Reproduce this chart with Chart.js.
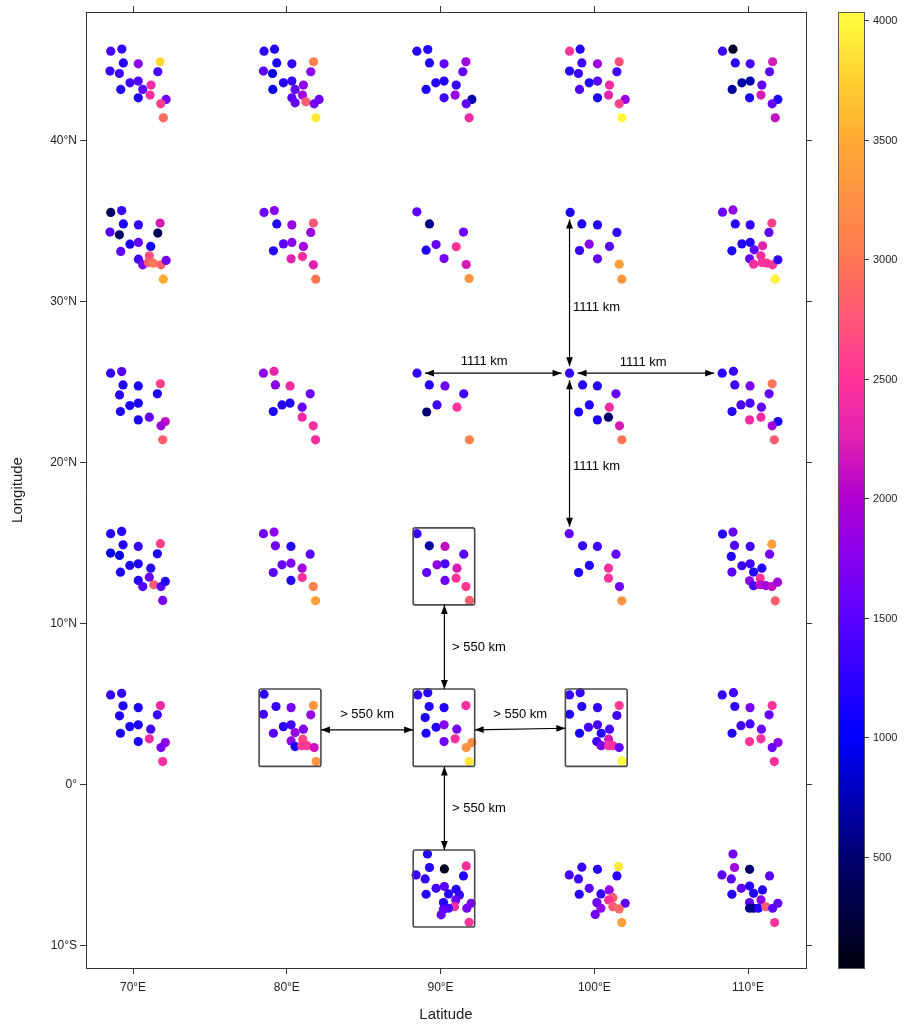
<!DOCTYPE html>
<html lang="en">
<head>
<meta charset="UTF-8">
<title>Station clusters</title>
<script src="https://cdn.jsdelivr.net/npm/chart.js"></script>
<style>
  body { margin: 0; background: #fff; }
  #wrap { width: 907px; height: 1028px; }
</style>
</head>
<body>
<div id="wrap"><canvas id="map" width="907" height="1028"></canvas></div>
<script>
// axis setup
const xRange = [66.94, 113.77];
const yRange = [-11.37, 48.0];
const xTickVals = [70, 80, 90, 100, 110];
const xTickLabels = ['70°E', '80°E', '90°E', '100°E', '110°E'];
const yTickVals = [-10, 0, 10, 20, 30, 40];
const yTickLabels = ['10°S', '0°', '10°N', '20°N', '30°N', '40°N'];

// colour key
const cbRange = [35, 4035];
const cbTicks = [500, 1000, 1500, 2000, 2500, 3000, 3500, 4000];
const cmapVals = [35, 500, 1000, 1500, 1750, 2000, 2250, 2500, 2750, 3000, 3250, 3500, 3750, 4035];
const cmapCols = ['#00000f', '#000070', '#0000ff', '#5a00ff', '#8800f0', '#b000d0', '#e020b0',
                  '#ff3399', '#ff5577', '#ff7755', '#ff9044', '#ffaa33', '#ffd030', '#ffff40'];

// station clusters: [lon, lat, value]
const c70_45 = [[68.55,45.57,1400],[69.27,45.70,1300],[69.37,44.84,1200],[70.34,44.78,1800],[71.76,44.91,3800],[68.50,44.33,1350],[69.11,44.18,1350],[71.61,44.29,1400],[69.80,43.60,1350],[70.34,43.71,1450],[71.17,43.46,2400],[70.63,43.19,1500],[69.20,43.19,1200],[71.11,42.84,2450],[72.15,42.57,1650],[70.34,42.67,1150],[71.80,42.30,2600],[71.97,41.43,2900]];
const c80_45 = [[78.52,45.57,1250],[79.20,45.69,1200],[79.35,44.84,1150],[80.33,44.78,1300],[81.74,44.91,3100],[78.48,44.33,1500],[79.07,44.18,900],[81.56,44.29,1750],[79.78,43.60,1200],[80.33,43.71,1300],[81.08,43.46,1800],[80.54,43.19,1550],[79.09,43.19,900],[81.02,42.84,1900],[80.33,42.67,1500],[80.54,42.36,1550],[81.24,42.42,2800],[81.78,42.30,1650],[82.10,42.57,1600],[81.89,41.43,3900]];
const c90_45 = [[88.46,45.57,1200],[89.17,45.67,1200],[89.28,44.84,1200],[90.23,44.78,1550],[91.65,44.91,1900],[91.45,44.29,1550],[89.69,43.60,1200],[90.23,43.71,1200],[91.02,43.46,1300],[89.06,43.19,1150],[90.23,42.67,1350],[90.95,42.84,1850],[92.04,42.57,700],[91.67,42.30,1500],[91.86,41.43,2400]];
const c100_45 = [[98.39,45.57,2500],[99.08,45.69,1200],[99.19,44.84,1350],[100.21,44.78,1900],[101.62,44.91,2700],[98.39,44.33,1200],[98.97,44.18,1300],[101.47,44.29,1350],[99.67,43.60,1200],[100.21,43.71,1500],[100.99,43.46,2400],[99.04,43.19,1450],[100.93,42.84,2300],[100.21,42.67,1150],[102.01,42.57,1850],[101.62,42.30,2600],[101.79,41.43,4000]];
const c110_45 = [[108.34,45.57,1350],[109.02,45.69,150],[109.17,44.84,1200],[110.14,44.78,1400],[111.60,44.91,2200],[111.40,44.29,1500],[109.60,43.60,700],[110.14,43.71,700],[110.90,43.46,1550],[108.97,43.19,650],[110.84,42.84,2200],[110.10,42.67,1150],[111.94,42.57,1150],[111.57,42.30,1550],[111.77,41.43,2100]];

const c70_35 = [[68.55,35.55,400],[69.26,35.67,1300],[69.37,34.84,1150],[70.35,34.78,1300],[71.76,34.89,2200],[68.50,34.33,1450],[69.11,34.16,450],[71.61,34.27,400],[69.80,33.58,1150],[70.35,33.69,1550],[71.15,33.44,1100],[69.20,33.13,1500],[71.06,32.86,2700],[70.35,32.65,1350],[70.63,32.30,1650],[71.00,32.44,2800],[71.32,32.40,3000],[71.82,32.30,2800],[72.15,32.57,1600],[71.97,31.41,3500]];
const c80_35 = [[78.52,35.55,1600],[79.19,35.67,1750],[79.35,34.84,1200],[80.33,34.78,1850],[81.73,34.89,2750],[81.56,34.31,1850],[79.78,33.60,1500],[80.33,33.69,1750],[81.08,33.44,1900],[79.13,33.17,1200],[80.28,32.67,2250],[81.02,32.81,2450],[81.73,32.30,2250],[81.88,31.41,3000]];
const c90_35 = [[88.46,35.59,1500],[89.28,34.84,600],[91.49,34.33,1600],[89.71,33.56,1550],[89.06,33.21,1200],[91.02,33.42,2500],[90.23,32.69,1650],[91.67,32.32,2200],[91.86,31.45,3300]];
const c100_35 = [[98.43,35.55,1150],[99.19,34.84,1150],[100.21,34.78,1200],[101.47,34.31,1250],[99.04,33.19,1300],[99.67,33.58,1750],[100.99,33.44,1500],[100.21,32.67,1550],[101.62,32.34,3400],[101.79,31.41,3300]];
const c110_35 = [[108.34,35.57,1600],[109.02,35.71,1800],[109.17,34.84,1200],[110.14,34.78,1300],[111.55,34.89,2600],[111.36,34.31,1500],[109.60,33.60,1200],[110.14,33.69,1200],[110.95,33.48,2300],[108.95,33.17,1150],[110.40,33.23,1550],[110.84,32.86,2450],[110.10,32.67,1550],[110.36,32.34,2450],[110.90,32.44,2500],[111.23,32.40,2500],[111.60,32.30,2450],[111.94,32.61,1250],[111.77,31.41,3950]];

const c70_25 = [[68.54,25.57,1300],[69.26,25.67,1450],[69.35,24.84,1200],[70.34,24.78,1150],[71.78,24.91,2600],[69.12,24.22,1200],[71.58,24.29,1150],[69.79,23.56,1150],[70.34,23.71,1150],[69.18,23.19,1150],[71.06,22.84,1550],[70.34,22.67,1150],[72.10,22.57,2100],[71.82,22.30,1900],[71.93,21.43,2800]];
const c80_25 = [[78.48,25.57,1800],[79.17,25.69,2300],[79.26,24.84,1750],[80.21,24.78,2400],[81.52,24.29,1600],[79.12,23.19,1150],[79.69,23.60,1200],[80.21,23.71,1200],[81.00,23.46,1550],[81.00,22.84,2400],[81.72,22.30,2450],[81.87,21.43,2400]];
const c90_25 = [[88.47,25.57,1250],[89.27,24.84,1200],[90.29,24.78,1600],[91.51,24.29,1350],[89.77,23.60,1350],[89.10,23.16,500],[91.07,23.46,2500],[91.88,21.43,3100]];
const c100_25 = [[98.39,25.57,1300],[99.24,24.84,1200],[100.20,24.78,1200],[101.41,24.29,1550],[99.68,23.60,1200],[98.98,23.16,1150],[100.98,23.46,2400],[100.20,22.67,1150],[100.92,22.84,450],[101.64,22.30,2200],[101.79,21.43,3000]];
const c110_25 = [[108.32,25.57,1250],[109.05,25.69,1300],[109.14,24.84,1350],[110.13,24.78,1650],[111.57,24.91,3000],[111.37,24.29,1550],[109.54,23.60,1400],[110.13,23.71,1400],[110.87,23.46,1550],[108.96,23.19,1200],[110.10,22.67,2400],[110.84,22.84,2400],[111.95,22.57,1150],[111.57,22.30,1900],[111.71,21.43,2800]];

const c70_15 = [[68.54,15.60,1200],[69.26,15.74,1200],[69.35,14.91,1200],[70.34,14.81,1300],[71.78,14.98,2600],[68.54,14.40,900],[69.12,14.25,900],[71.58,14.35,1150],[69.79,13.63,1150],[70.34,13.73,1150],[71.15,13.46,1200],[69.18,13.21,1150],[70.34,12.70,1200],[71.06,12.90,1600],[70.63,12.32,1450],[71.35,12.43,2800],[71.82,12.32,1500],[72.10,12.64,1200],[71.93,11.46,1650]];
const c80_15 = [[78.48,15.60,1600],[79.17,15.70,1800],[79.26,14.85,1600],[80.27,14.81,1200],[81.52,14.33,1500],[79.69,13.67,1550],[80.27,13.77,1700],[81.00,13.46,1900],[79.12,13.19,1500],[80.27,12.70,1200],[81.00,12.88,2450],[81.72,12.32,3100],[81.87,11.43,3400]];
const c90_15 = [[88.47,15.60,1300],[89.27,14.85,700],[90.29,14.81,2100],[91.51,14.33,1500],[89.77,13.67,1800],[90.29,13.73,1400],[89.10,13.19,1500],[91.07,13.46,2200],[90.29,12.70,1600],[91.01,12.84,2500],[91.65,12.32,2550],[91.88,11.46,2800]];
const c100_15 = [[98.37,15.60,1550],[99.24,14.85,1300],[100.20,14.81,1350],[101.41,14.33,1550],[99.68,13.63,1200],[98.98,13.19,1150],[100.92,13.46,2450],[100.92,12.84,2450],[101.64,12.32,1600],[101.79,11.43,3300]];
const c110_15 = [[108.34,15.58,1200],[109.02,15.70,1600],[109.12,14.87,1450],[110.14,14.81,1350],[111.55,14.95,3400],[111.40,14.33,1650],[108.91,14.19,1200],[109.60,13.61,1350],[110.14,13.73,1350],[110.90,13.46,1200],[108.95,13.22,1500],[110.36,13.22,1200],[110.79,12.84,2500],[110.10,12.68,1800],[110.36,12.37,1400],[110.79,12.43,2100],[111.16,12.38,1900],[111.55,12.32,2100],[111.92,12.59,1900],[111.77,11.43,2800]];

const c70_5 = [[68.54,5.59,1300],[69.26,5.69,1300],[69.35,4.91,1150],[70.34,4.80,1150],[71.78,4.93,2400],[69.12,4.29,1150],[71.58,4.35,1350],[69.79,3.62,1150],[70.34,3.73,1150],[69.18,3.21,1150],[71.15,3.46,1350],[71.06,2.86,2400],[70.34,2.69,1150],[72.10,2.63,1800],[71.82,2.32,1650],[71.93,1.45,2450]];
const c80_5 = [[78.52,5.63,1250],[79.30,4.87,1300],[80.28,4.80,1650],[81.73,4.93,3300],[78.48,4.39,1350],[81.56,4.35,1850],[79.78,3.62,1200],[80.28,3.73,1350],[81.08,3.46,1700],[79.13,3.21,1500],[80.54,3.25,1850],[80.28,2.73,1800],[81.04,2.84,2650],[80.54,2.38,1150],[80.97,2.44,2550],[81.30,2.44,2550],[81.78,2.32,2150],[81.91,1.45,3300]];
const c90_5 = [[88.52,5.59,1250],[89.17,5.73,1200],[89.26,4.87,1200],[90.23,4.80,1200],[91.65,4.93,2450],[89.00,4.18,1150],[89.71,3.58,1200],[90.23,3.73,1750],[91.06,3.46,1650],[89.06,3.21,1150],[90.23,2.69,1600],[90.95,2.86,2450],[92.04,2.63,3200],[91.67,2.32,3300],[91.86,1.45,3900]];
const c100_5 = [[98.39,5.59,1300],[99.08,5.73,1300],[99.19,4.87,1200],[100.21,4.80,1250],[101.62,4.93,2550],[98.39,4.39,1200],[101.47,4.31,1350],[99.62,3.58,1350],[100.21,3.73,1400],[100.99,3.46,1400],[99.04,3.21,1150],[100.45,3.21,1200],[100.16,2.69,1350],[100.93,2.84,2200],[100.45,2.44,1650],[100.93,2.44,2500],[101.21,2.44,2450],[101.62,2.32,1550],[101.79,1.49,4000]];
const c110_5 = [[108.32,5.59,1300],[109.05,5.73,1350],[109.14,4.87,1300],[110.13,4.80,1650],[111.57,4.93,2500],[111.37,4.35,1550],[109.54,3.68,1400],[110.13,3.79,1400],[110.87,3.46,1600],[108.96,3.21,1200],[110.10,2.69,2500],[110.84,2.86,2450],[111.95,2.63,1800],[111.57,2.32,1600],[111.71,1.45,2450]];

const c90_m5 = [[89.15,-4.29,1200],[89.28,-5.13,1200],[90.25,-5.22,100],[91.67,-5.03,2450],[88.41,-5.59,1300],[89.00,-5.84,1300],[91.49,-5.65,1200],[89.71,-6.42,1400],[90.25,-6.31,1500],[91.01,-6.48,1200],[89.06,-6.79,1200],[90.52,-6.77,1200],[91.23,-6.83,1300],[90.19,-7.31,1200],[90.99,-7.14,1600],[90.91,-7.56,2450],[90.52,-7.66,1400],[90.19,-7.72,1550],[91.99,-7.35,1650],[91.71,-7.66,1650],[90.04,-8.07,1550],[91.86,-8.53,2500]];
const c100_m5 = [[99.19,-5.11,1300],[100.21,-5.24,1200],[101.58,-5.07,3900],[98.37,-5.59,1400],[98.97,-5.84,1350],[101.47,-5.65,1200],[99.67,-6.42,1500],[100.97,-6.52,1800],[99.02,-6.79,1200],[100.43,-6.77,1300],[101.21,-7.00,2800],[100.93,-7.14,2500],[100.17,-7.31,1600],[102.01,-7.35,1500],[101.21,-7.56,2800],[100.43,-7.66,1800],[101.62,-7.70,2900],[100.06,-8.04,1600],[101.79,-8.55,3400]];
const c110_m5 = [[109.02,-4.29,1650],[109.12,-5.13,1900],[110.10,-5.24,500],[108.30,-5.59,1500],[108.91,-5.84,1500],[111.40,-5.65,1500],[109.56,-6.42,1550],[110.10,-6.28,1200],[110.94,-6.52,1200],[108.95,-6.79,1200],[110.36,-6.73,1200],[110.10,-7.31,1550],[110.84,-7.14,1750],[110.10,-7.66,600],[110.36,-7.66,600],[110.67,-7.66,1200],[111.16,-7.56,2800],[111.60,-7.66,1500],[111.94,-7.35,1550],[111.73,-8.55,2500]];

// annotations (data units)
const boxes = [[88.22, 15.96, 92.22, 11.18], [78.20, 5.96, 82.22, 1.15], [88.22, 5.96, 92.22, 1.15],
               [98.12, 5.96, 102.14, 1.15], [88.22, -4.04, 92.22, -8.82]];
// [lon1, lat1, lon2, lat2, gap in px at both ends]
const arrows = [[98.39, 25.57, 98.39, 35.55, 7], [98.39, 25.57, 98.39, 15.60, 7],
                [98.39, 25.57, 88.47, 25.57, 8], [98.39, 25.57, 108.32, 25.57, 8],
                [90.25, 5.96, 90.25, 11.18, 0], [90.25, 1.15, 90.25, -4.04, 0],
                [82.22, 3.42, 88.22, 3.42, 0], [92.22, 3.42, 98.12, 3.52, 0]];
// [text, lon, lat, align]
const notes = [['1111 km', 98.62, 29.63, 'left'], ['1111 km', 98.62, 19.81, 'left'],
               ['1111 km', 92.84, 26.27, 'center'], ['1111 km', 103.18, 26.22, 'center'],
               ['> 550 km', 90.75, 8.51, 'left'], ['> 550 km', 90.75, -1.49, 'left'],
               ['> 550 km', 85.22, 4.35, 'center'], ['> 550 km', 95.18, 4.35, 'center']];

const FONT = '"Liberation Sans", Arial, Helvetica, sans-serif';
Chart.defaults.font.family = FONT;

function hex2rgb(h) {
    return [parseInt(h.slice(1, 3), 16), parseInt(h.slice(3, 5), 16), parseInt(h.slice(5, 7), 16)];
}
const cmapRgb = cmapCols.map(hex2rgb);

function cmap(v) {
    if (v <= cmapVals[0]) return 'rgb(' + cmapRgb[0].join(',') + ')';
    for (let i = 1; i < cmapVals.length; i++) {
        if (v <= cmapVals[i]) {
            const t = (v - cmapVals[i - 1]) / (cmapVals[i] - cmapVals[i - 1]);
            const a = cmapRgb[i - 1], b = cmapRgb[i];
            return 'rgb(' + a.map((c, k) => Math.round(c + (b[k] - c) * t)).join(',') + ')';
        }
    }
    return 'rgb(' + cmapRgb[cmapRgb.length - 1].join(',') + ')';
}

const clusters = [c70_45, c80_45, c90_45, c100_45, c110_45,
                  c70_35, c80_35, c90_35, c100_35, c110_35,
                  c70_25, c80_25, c90_25, c100_25, c110_25,
                  c70_15, c80_15, c90_15, c100_15, c110_15,
                  c70_5, c80_5, c90_5, c100_5, c110_5,
                  c90_m5, c100_m5, c110_m5];
const pts = clusters.flat();

function drawHead(ctx, px, py, ux, uy) {
    const L = 9, W = 3.4;
    ctx.beginPath();
    ctx.moveTo(px, py);
    ctx.lineTo(px - ux * L - uy * W, py - uy * L + ux * W);
    ctx.lineTo(px - ux * L + uy * W, py - uy * L - ux * W);
    ctx.closePath();
    ctx.fill();
}

function drawArrow(ctx, x1, y1, x2, y2, gap) {
    const dx = x2 - x1, dy = y2 - y1, len = Math.hypot(dx, dy);
    const ux = dx / len, uy = dy / len;
    const ax = x1 + ux * gap, ay = y1 + uy * gap, bx = x2 - ux * gap, by = y2 - uy * gap;
    ctx.beginPath();
    ctx.moveTo(ax, ay);
    ctx.lineTo(bx, by);
    ctx.stroke();
    drawHead(ctx, bx, by, ux, uy);
    drawHead(ctx, ax, ay, -ux, -uy);
}

const overlay = {
    id: 'overlay',
    afterDatasetsDraw(chart) {
        const { ctx, scales: { x, y } } = chart;
        ctx.save();
        // boxes
        ctx.strokeStyle = '#4a4a4a';
        ctx.lineWidth = 1.6;
        boxes.forEach(([x1, y1, x2, y2]) => {
            const l = x.getPixelForValue(x1), r = x.getPixelForValue(x2);
            const t = y.getPixelForValue(y1), b = y.getPixelForValue(y2);
            ctx.beginPath();
            if (ctx.roundRect) ctx.roundRect(l, t, r - l, b - t, 2); else ctx.rect(l, t, r - l, b - t);
            ctx.stroke();
        });
        // arrows
        ctx.strokeStyle = '#000';
        ctx.fillStyle = '#000';
        ctx.lineWidth = 1.2;
        arrows.forEach(([x1, y1, x2, y2, gap]) => {
            drawArrow(ctx, x.getPixelForValue(x1), y.getPixelForValue(y1),
                      x.getPixelForValue(x2), y.getPixelForValue(y2), gap);
        });
        // labels
        ctx.font = '13px ' + FONT;
        ctx.textBaseline = 'middle';
        notes.forEach(([txt, lon, lat, align]) => {
            ctx.textAlign = align;
            ctx.fillText(txt, x.getPixelForValue(lon), y.getPixelForValue(lat));
        });
        ctx.restore();
    },
    afterDraw(chart) {
        const { ctx, chartArea: a, scales: { cb } } = chart;
        ctx.save();
        // colour key
        const left = a.right + 32, right = a.right + 58;
        for (let py = Math.floor(a.top); py < a.bottom; py++) {
            ctx.fillStyle = cmap(cb.getValueForPixel(py + 0.5));
            ctx.fillRect(left, py, right - left, 1);
        }
        ctx.strokeStyle = '#5a5a50';
        ctx.lineWidth = 1;
        ctx.strokeRect(left + 0.5, a.top + 0.5, right - left, a.bottom - a.top);
        ctx.fillStyle = '#222';
        ctx.strokeStyle = '#333';
        ctx.font = '11px ' + FONT;
        ctx.textAlign = 'left';
        ctx.textBaseline = 'middle';
        cbTicks.forEach(v => {
            const py = Math.round(cb.getPixelForValue(v)) + 0.5;
            ctx.beginPath();
            ctx.moveTo(right, py);
            ctx.lineTo(right + 5, py);
            ctx.stroke();
            ctx.fillText(String(v), right + 9, py);
        });
        // axis titles
        ctx.fillStyle = '#222';
        ctx.font = '15px ' + FONT;
        ctx.textAlign = 'center';
        ctx.fillText('Latitude', (a.left + a.right) / 2, chart.height - 13);
        ctx.translate(18, (a.top + a.bottom) / 2);
        ctx.rotate(-Math.PI / 2);
        ctx.fillText('Longitude', 0, 0);
        ctx.restore();
    }
};

const tickGrid = { drawOnChartArea: false, drawTicks: true, tickLength: 6, color: '#333' };
const frame = { display: true, color: '#333', width: 1 };

new Chart(document.getElementById('map'), {
    type: 'scatter',
    data: {
        datasets: [{
            data: pts.map(p => ({ x: p[0], y: p[1] })),
            pointBackgroundColor: pts.map(p => cmap(p[2])),
            pointBorderWidth: 0,
            pointBorderColor: 'rgba(0,0,0,0)',
            pointRadius: 4.6,
            pointHoverRadius: 4.6
        }]
    },
    options: {
        responsive: false,
        animation: false,
        events: [],
        layout: { padding: 0 },
        plugins: { legend: { display: false }, tooltip: { enabled: false } },
        scales: {
            x: {
                type: 'linear', position: 'bottom', min: xRange[0], max: xRange[1],
                afterBuildTicks: s => { s.ticks = xTickVals.map(v => ({ value: v })); },
                afterFit: s => { s.height = 60; },
                ticks: { padding: 6, color: '#222', font: { size: 12 },
                         callback: v => xTickLabels[xTickVals.indexOf(v)] },
                grid: tickGrid, border: frame
            },
            x2: {
                type: 'linear', position: 'top', min: xRange[0], max: xRange[1],
                afterBuildTicks: s => { s.ticks = xTickVals.map(v => ({ value: v })); },
                afterFit: s => { s.height = 12; },
                ticks: { display: false },
                grid: tickGrid, border: frame
            },
            y: {
                type: 'linear', position: 'left', min: yRange[0], max: yRange[1],
                afterBuildTicks: s => { s.ticks = yTickVals.map(v => ({ value: v })); },
                afterFit: s => { s.width = 86; },
                ticks: { padding: 3, color: '#222', font: { size: 12 },
                         callback: v => yTickLabels[yTickVals.indexOf(v)] },
                grid: tickGrid, border: frame
            },
            y2: {
                type: 'linear', position: 'right', min: yRange[0], max: yRange[1],
                afterBuildTicks: s => { s.ticks = yTickVals.map(v => ({ value: v })); },
                afterFit: s => { s.width = 101; },
                ticks: { display: false },
                grid: tickGrid, border: frame
            },
            cb: {
                type: 'linear', position: 'right', display: false, min: cbRange[0], max: cbRange[1]
            }
        }
    },
    plugins: [overlay]
});
</script>
</body>
</html>
